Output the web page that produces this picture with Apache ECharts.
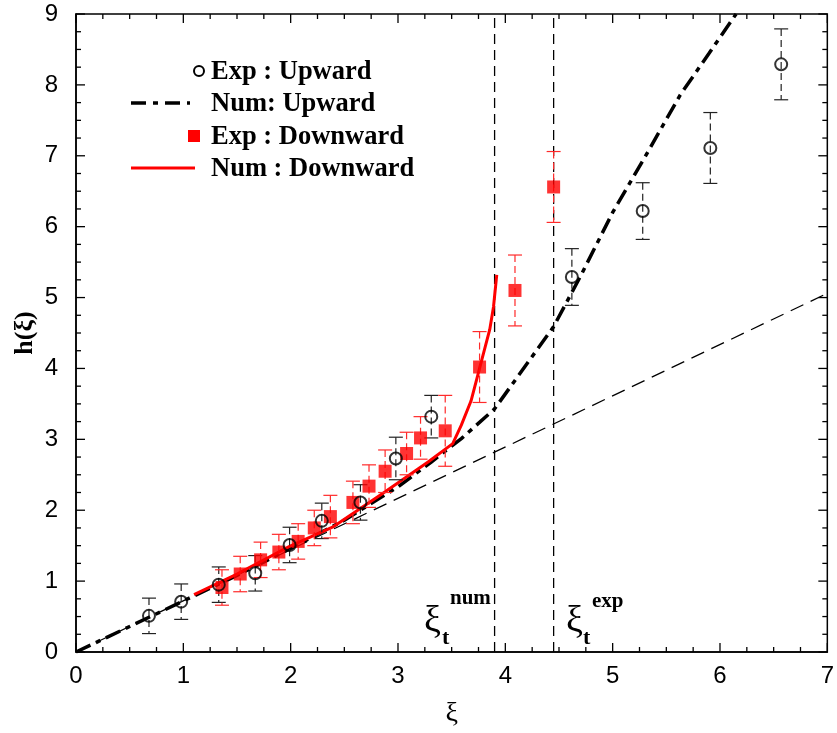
<!DOCTYPE html>
<html><head><meta charset="utf-8">
<script src="https://cdn.jsdelivr.net/npm/echarts@6/dist/echarts.min.js"></script>
<style>html,body{margin:0;padding:0;background:#fff}#c{width:837px;height:733px;background:#fff}</style>
</head><body><div id="c"></div>
<script>
// ---- data ----
const xTicks = [0, 1, 2, 3, 4, 5, 6, 7];
const yTicks = [0, 1, 2, 3, 4, 5, 6, 7, 8, 9];
const minorPerMajor = 4;

const expUpX   = [0.68, 0.98, 1.33, 1.67, 1.99, 2.29, 2.65, 2.98, 3.31, 4.62, 5.28, 5.91, 6.57];
const expUpY   = [0.51, 0.71, 0.95, 1.11, 1.51, 1.85, 2.11, 2.73, 3.32, 5.29, 6.22, 7.11, 8.29];
const expUpErr = [0.25, 0.25, 0.25, 0.25, 0.25, 0.25, 0.25, 0.30, 0.30, 0.40, 0.40, 0.50, 0.50];

const expDownX   = [1.36, 1.53, 1.72, 1.89, 2.07, 2.22, 2.37, 2.58, 2.73, 2.88, 3.08, 3.21, 3.44, 3.76, 4.09, 4.45];
const expDownY   = [0.91, 1.10, 1.30, 1.41, 1.56, 1.75, 1.91, 2.11, 2.34, 2.55, 2.80, 3.02, 3.12, 4.02, 5.10, 6.56];
const expDownErr = [0.25, 0.25, 0.25, 0.25, 0.25, 0.25, 0.30, 0.30, 0.30, 0.30, 0.30, 0.30, 0.50, 0.50, 0.50, 0.50];

const numUpX = [0, 0.5, 1.0, 1.5, 2.0, 2.5, 3.0, 3.31, 3.59, 3.9, 4.45, 4.7, 5.0, 5.3, 5.63, 5.9, 6.15];
const numUpY = [0, 0.36, 0.72, 1.08, 1.46, 1.86, 2.33, 2.68, 3.01, 3.43, 4.59, 5.30, 6.20, 6.98, 7.86, 8.45, 9.0];

const numDownX = [1.10, 1.50, 1.99, 2.40, 2.86, 3.28, 3.51, 3.59, 3.68, 3.855, 3.89, 3.92];
const numDownY = [0.81, 1.10, 1.49, 1.77, 2.24, 2.68, 2.94, 3.20, 3.54, 4.55, 4.87, 5.32];

const refLineX = [0, 7];
const refLineY = [0, 5.06];

const xiNum = 3.9;
const xiExp = 4.45;

const legendNames = ['Exp : Upward', 'Num: Upward', 'Exp : Downward', 'Num : Downward'];

// ---- helpers ----
const zip = (a, b) => a.map((v, i) => [v, b[i]]);
const zip3 = (a, b, c) => a.map((v, i) => [v, b[i], c[i]]);

function errRender(color) {
  return function (params, api) {
    const x = api.value(0), y = api.value(1), e = api.value(2);
    const top = api.coord([x, y + e]), bot = api.coord([x, y - e]);
    const hw = 7;
    const cap = { stroke: color, lineWidth: 1.2 };
    return {
      type: 'group', children: [
        { type: 'line', shape: { x1: top[0], y1: top[1], x2: bot[0], y2: bot[1] }, style: { stroke: color, lineWidth: 1.2, lineDash: [7, 4] } },
        { type: 'line', shape: { x1: top[0] - hw, y1: top[1], x2: top[0] + hw, y2: top[1] }, style: cap },
        { type: 'line', shape: { x1: bot[0] - hw, y1: bot[1], x2: bot[0] + hw, y2: bot[1] }, style: cap }
      ]
    };
  };
}

const xMin = xTicks[0], xMax = xTicks[xTicks.length - 1];
const yMin = yTicks[0], yMax = yTicks[yTicks.length - 1];

// tick positions along each axis (major and minor)
function tickValues(ticks) {
  const out = [];
  for (let i = 0; i < ticks.length; i++) {
    out.push([ticks[i], 1]);
    if (i < ticks.length - 1) {
      const step = (ticks[i + 1] - ticks[i]) / minorPerMajor;
      for (let k = 1; k < minorPerMajor; k++) out.push([ticks[i] + k * step, 0]);
    }
  }
  return out;
}

const serifB = 'Liberation Serif, Times New Roman, serif';
const tickFont = { fontFamily: 'Liberation Sans, Arial, sans-serif', fontSize: 24, color: '#000' };
const legendFont = { fontFamily: serifB, fontWeight: 'bold', fontSize: 26.5, fill: '#000', verticalAlign: 'middle' };

const baseGraphic = [
  // legend
  { type: 'circle', shape: { cx: 199, cy: 71, r: 5 }, style: { fill: 'none', stroke: '#000', lineWidth: 2 } },
  { type: 'line', shape: { x1: 131, y1: 103, x2: 190, y2: 103 }, style: { stroke: '#000', lineWidth: 3.5, lineDash: [15, 7, 5, 7] } },
  { type: 'rect', shape: { x: 188, y: 130, width: 12, height: 12 }, style: { fill: '#ff0000' } },
  { type: 'line', shape: { x1: 131, y1: 168, x2: 195, y2: 168 }, style: { stroke: '#ff0000', lineWidth: 3 } },
  { type: 'text', x: 211, y: 72, style: Object.assign({ text: legendNames[0] }, legendFont) },
  { type: 'text', x: 211, y: 104, style: Object.assign({ text: legendNames[1] }, legendFont) },
  { type: 'text', x: 211, y: 137, style: Object.assign({ text: legendNames[2] }, legendFont) },
  { type: 'text', x: 211, y: 169, style: Object.assign({ text: legendNames[3] }, legendFont) },
  // annotations
  { type: 'text', x: 424, y: 622, style: { text: 'ξ', fontFamily: serifB, fontSize: 38, fill: '#000', verticalAlign: 'middle' } },
  { type: 'text', x: 442, y: 638, style: { text: 't', fontFamily: serifB, fontWeight: 'bold', fontSize: 22, fill: '#000', verticalAlign: 'middle' } },
  { type: 'text', x: 450, y: 599, style: { text: 'num', fontFamily: serifB, fontWeight: 'bold', fontSize: 21, fill: '#000', verticalAlign: 'middle' } },
  { type: 'text', x: 566, y: 622, style: { text: 'ξ', fontFamily: serifB, fontSize: 38, fill: '#000', verticalAlign: 'middle' } },
  { type: 'text', x: 583, y: 638, style: { text: 't', fontFamily: serifB, fontWeight: 'bold', fontSize: 22, fill: '#000', verticalAlign: 'middle' } },
  { type: 'text', x: 592, y: 602, style: { text: 'exp', fontFamily: serifB, fontWeight: 'bold', fontSize: 21, fill: '#000', verticalAlign: 'middle' } }
];

const chart = echarts.init(document.getElementById('c'));

const option = {
  animation: false,
  grid: { left: 76, right: 9, top: 14, bottom: 75, show: true, borderColor: '#000', borderWidth: 1.5, backgroundColor: 'transparent' },
  xAxis: {
    type: 'value', min: xMin, max: xMax, interval: 1,
    axisLine: { show: true, lineStyle: { color: '#000', width: 1.5 } },
    axisTick: { show: false },
    splitLine: { show: false },
    axisLabel: Object.assign({ margin: 12 }, tickFont),
    name: 'ξ', nameLocation: 'middle', nameGap: 48, nameMoveOverlap: false,
    nameTextStyle: { fontFamily: serifB, fontSize: 28, color: '#000' }
  },
  yAxis: {
    type: 'value', min: yMin, max: yMax, interval: 1,
    axisLine: { show: true, lineStyle: { color: '#000', width: 1.5 } },
    axisTick: { show: false },
    splitLine: { show: false },
    axisLabel: Object.assign({ margin: 18 }, tickFont),
    name: 'h(ξ)', nameLocation: 'middle', nameGap: 38, nameRotate: 90, nameMoveOverlap: false,
    nameTextStyle: { fontFamily: serifB, fontSize: 26, fontWeight: 'bold', color: '#000' }
  },
  series: [
    { type: 'line', name: 'ref', data: zip(refLineX, refLineY), symbol: 'none',
      lineStyle: { color: '#000', width: 1.3, type: [14, 8] }, z: 1 },
    { type: 'line', name: 'xiNum', data: [[xiNum, yMin], [xiNum, yMax]], symbol: 'none',
      lineStyle: { color: '#000', width: 1.3, type: [10, 6] }, z: 1 },
    { type: 'line', name: 'xiExp', data: [[xiExp, yMin], [xiExp, yMax]], symbol: 'none',
      lineStyle: { color: '#000', width: 1.3, type: [10, 6] }, z: 1 },
    { type: 'line', name: legendNames[1], data: zip(numUpX, numUpY), symbol: 'none',
      lineStyle: { color: '#000', width: 3.5, type: [16, 6, 5, 6] }, z: 2 },
    { type: 'line', name: legendNames[3], data: zip(numDownX, numDownY), symbol: 'none',
      lineStyle: { color: '#ff0000', width: 3 }, z: 3 },
    { type: 'custom', name: 'errUp', data: zip3(expUpX, expUpY, expUpErr), renderItem: errRender('#222'), z: 4 },
    { type: 'custom', name: 'errDown', data: zip3(expDownX, expDownY, expDownErr), renderItem: errRender('#ff2a2a'), z: 4 },
    { type: 'scatter', name: legendNames[2], data: zip(expDownX, expDownY), symbol: 'rect', symbolSize: 13,
      itemStyle: { color: '#ff0000' }, z: 5 },
    { type: 'scatter', name: legendNames[0], data: zip(expUpX, expUpY), symbol: 'circle', symbolSize: 12,
      itemStyle: { color: 'rgba(0,0,0,0)', borderColor: '#000', borderWidth: 2 }, z: 6 }
  ],
  graphic: baseGraphic
};
chart.setOption(option);

// tick marks on all four sides, placed through the chart's own axis scales
const tickGraphic = [];
const tst = { stroke: '#000', lineWidth: 1.3 };
tickValues(xTicks).forEach(function (t) {
  const L = t[1] ? 9 : 5;
  const b = chart.convertToPixel({ gridIndex: 0 }, [t[0], yMin]);
  const u = chart.convertToPixel({ gridIndex: 0 }, [t[0], yMax]);
  tickGraphic.push({ type: 'line', z: 100, shape: { x1: b[0], y1: b[1], x2: b[0], y2: b[1] - L }, style: tst });
  tickGraphic.push({ type: 'line', z: 100, shape: { x1: u[0], y1: u[1], x2: u[0], y2: u[1] + L }, style: tst });
});
tickValues(yTicks).forEach(function (t) {
  const L = t[1] ? 9 : 5;
  const l = chart.convertToPixel({ gridIndex: 0 }, [xMin, t[0]]);
  const r = chart.convertToPixel({ gridIndex: 0 }, [xMax, t[0]]);
  tickGraphic.push({ type: 'line', z: 100, shape: { x1: l[0], y1: l[1], x2: l[0] + L, y2: l[1] }, style: tst });
  tickGraphic.push({ type: 'line', z: 100, shape: { x1: r[0], y1: r[1], x2: r[0] - L, y2: r[1] }, style: tst });
});
chart.setOption({ graphic: baseGraphic.concat(tickGraphic) });
</script>
</body></html>
